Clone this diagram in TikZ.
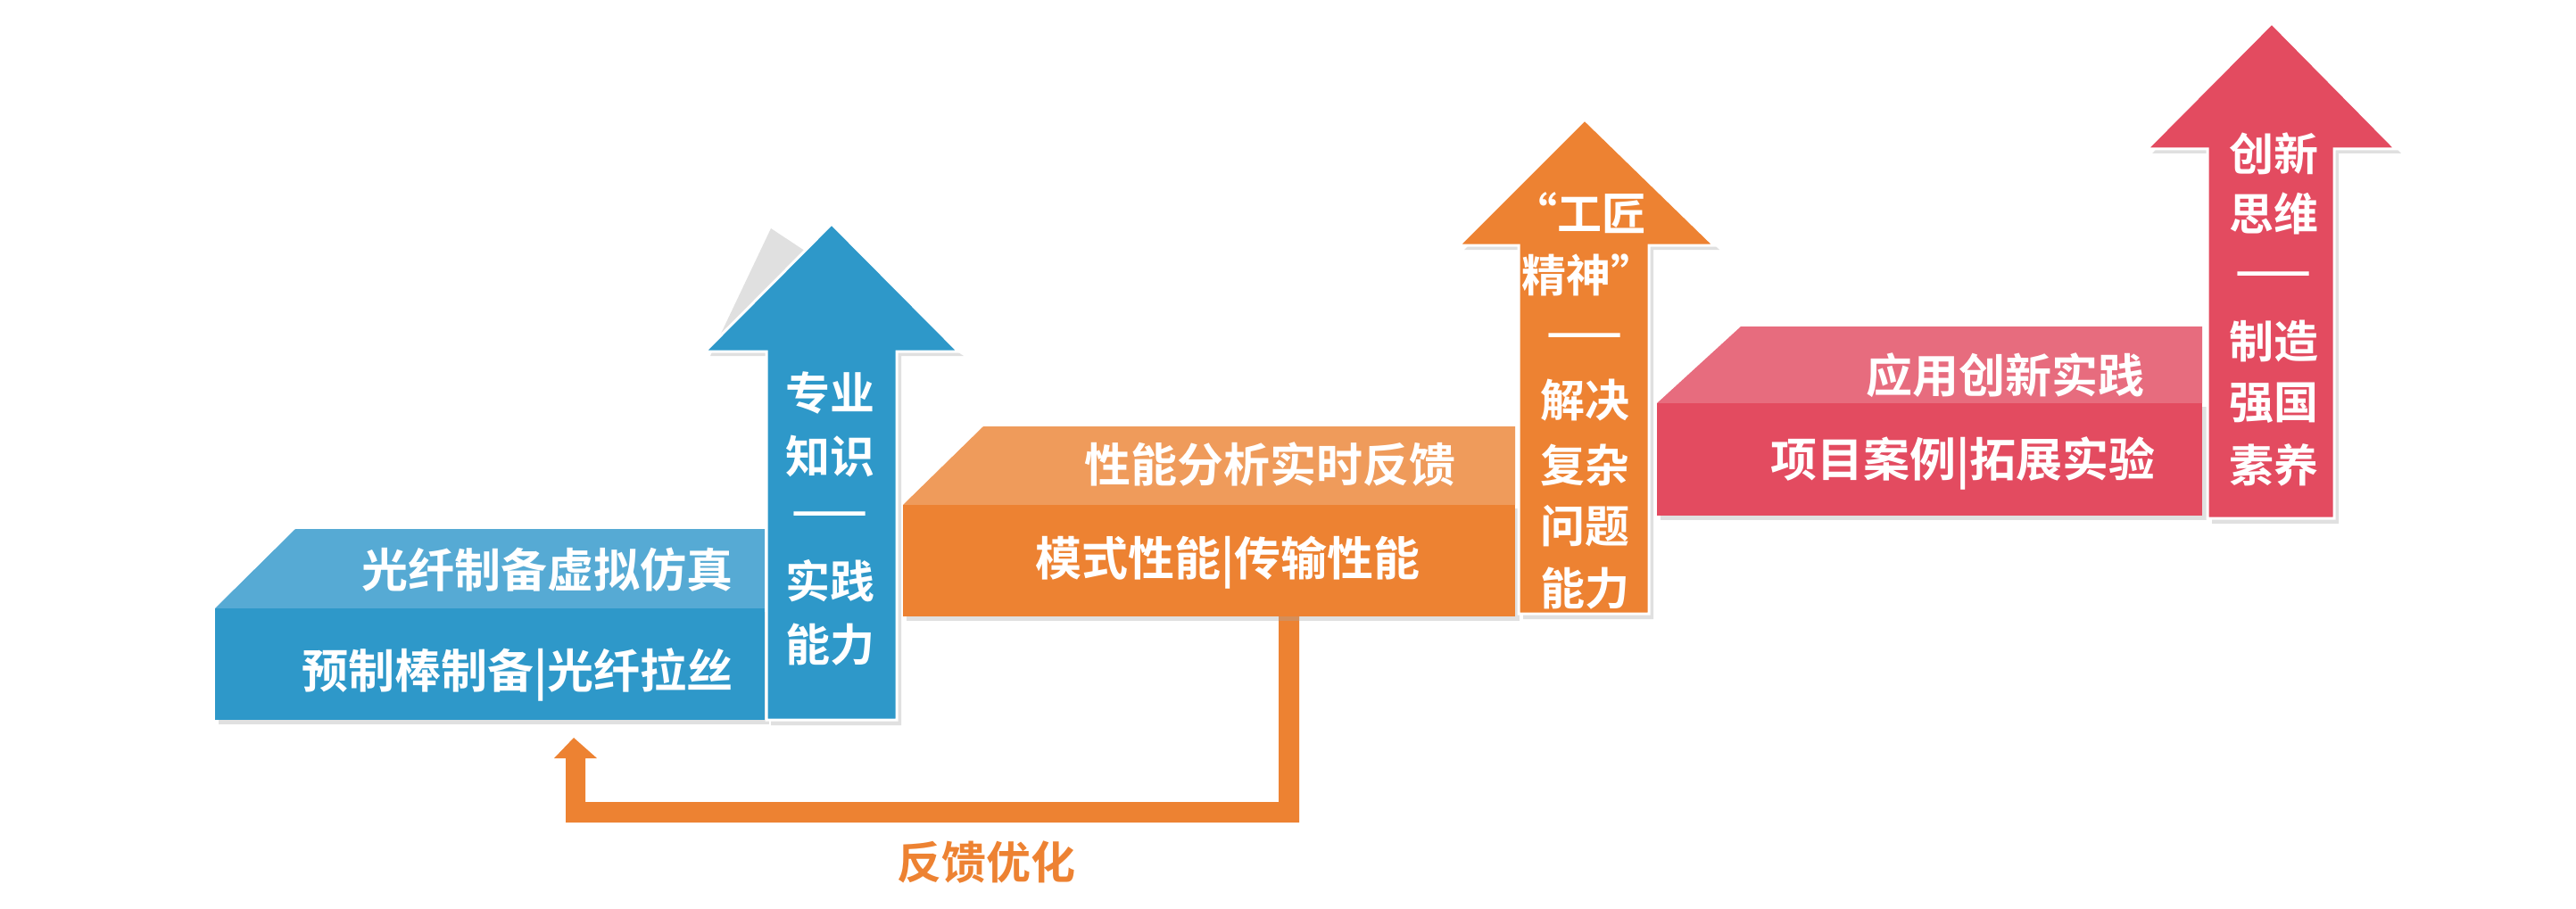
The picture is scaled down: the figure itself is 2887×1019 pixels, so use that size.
\documentclass[tikz,border=0pt]{standalone}
\usepackage{fontspec}
\setmainfont{Noto Sans CJK SC Bold}
\definecolor{bl}{HTML}{2E98C9}\definecolor{blt}{HTML}{56AAD4}
\definecolor{org}{HTML}{ED8232}\definecolor{orgt}{HTML}{EF9B5B}
\definecolor{rd}{HTML}{E34B60}\definecolor{rdt}{HTML}{E76C7E}
\tikzset{
 txt/.style={text=white,font=\fontsize{52}{56}\selectfont,inner sep=0pt},
 atxt/.style={text=white,font=\fontsize{50}{54}\selectfont,inner sep=0pt},
 shad/.style={fill=black!35,opacity=0.35},
 arr/.style={draw=white,line width=3pt}
}
\begin{document}
\begin{tikzpicture}[x=1pt,y=-1pt]
\useasboundingbox (0,0) rectangle (2887,1019);
% blue block
\fill[shad] (245,686) rectangle (862,812);
\fill[blt] (331,593) -- (857,593) -- (857,682) -- (241,682) -- cycle;
\fill[bl] (241,682) rectangle (857,807);
% blue arrow
\fill[shad] (864,256) -- (1080,399) -- (1010,399) -- (1010,813) -- (864,813) -- (864,399) -- (796,399) -- cycle;
\fill[bl,arr] (932,251) -- (1074,394) -- (1005,394) -- (1005,807) -- (859,807) -- (859,394) -- (790,394) -- cycle;
\node[txt,anchor=east] (b1) at (822,639) {光纤制备虚拟仿真};
\node[txt,anchor=east] (b2) at (822,756) {预制棒制备|光纤拉丝};
\node[atxt] (ba1) at (930,440) {专业};
\node[atxt] (ba2) at (930,511) {知识};
\node[atxt] (ba3) at (930,582) {——};
\node[atxt] (ba4) at (930,651) {实践};
\node[atxt] (ba5) at (930,723) {能力};
% feedback
\fill[org] (1433,691) -- (1456,691) -- (1456,922) -- (634,922) -- (634,850) -- (621,850) -- (643,827) -- (669,850) -- (656,850) -- (656,899) -- (1433,899) -- cycle;
\node[text=org,font=\fontsize{50}{54}\selectfont,inner sep=0pt] (fb) at (1105,967) {反馈优化};
% orange block
\fill[shad] (1016,570) rectangle (1703,696);
\fill[orgt] (1102,478) -- (1698,478) -- (1698,566) -- (1012,566) -- cycle;
\fill[org] (1012,566) rectangle (1698,691);
\fill[shad] (1781,139) -- (1927,280) -- (1853,280) -- (1853,694) -- (1707,694) -- (1707,280) -- (1641,280) -- cycle;
\fill[org,arr] (1776,134) -- (1921,275) -- (1848,275) -- (1848,688) -- (1702,688) -- (1702,275) -- (1635,275) -- cycle;
\node[txt,anchor=east] (o1) at (1632,521) {性能分析实时反馈};
\node[txt,anchor=east] (o2) at (1592,631) {模式性能|传输性能};
\node[atxt] (oa1) at (1770,239) {“工匠};
\node[atxt] (oa2) at (1780,308) {精神”};
\node[atxt] (oa3) at (1776,382) {——};
\node[atxt] (oa4) at (1776,449) {解决};
\node[atxt] (oa5) at (1776,521) {复杂};
\node[atxt] (oa6) at (1776,590) {问题};
\node[atxt] (oa7) at (1776,660) {能力};
% red block
\fill[shad] (1861,456) rectangle (2473,583);
\fill[rdt] (1951,366) -- (2468,366) -- (2468,452) -- (1857,452) -- cycle;
\fill[rd] (1857,452) rectangle (2468,578);
\fill[shad] (2551,31) -- (2691,172) -- (2621,172) -- (2621,587) -- (2479,587) -- (2479,172) -- (2412,172) -- cycle;
\fill[rd,arr] (2546,26) -- (2685,167) -- (2616,167) -- (2616,581) -- (2474,581) -- (2474,167) -- (2406,167) -- cycle;
\node[txt,anchor=east] (r1) at (2404,421) {应用创新实践};
\node[txt,anchor=east] (r2) at (2416,519) {项目案例|拓展实验};
\node[atxt] (ra1) at (2548,172) {创新};
\node[atxt] (ra2) at (2548,239) {思维};
\node[atxt] (ra3) at (2548,313) {——};
\node[atxt] (ra4) at (2548,382) {制造};
\node[atxt] (ra5) at (2548,452) {强国};
\node[atxt] (ra6) at (2548,521) {素养};
\end{tikzpicture}
\end{document}
